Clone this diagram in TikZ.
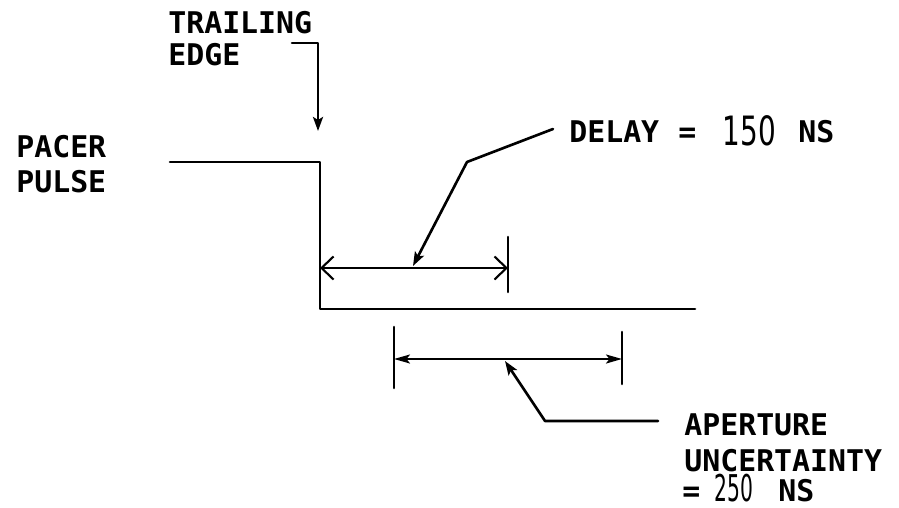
\documentclass[tikz,border=0pt]{standalone}
\usepackage{fontspec}
\newfontfamily\plotfont{DejaVu Sans Mono}
\newfontfamily\digfont{DejaVu Sans}
\usetikzlibrary{arrows.meta}

\begin{document}
\begin{tikzpicture}[x=0.02cm, y=-0.02cm, line cap=round, line join=round, line width=1.5pt,
  lbl/.style={font=\plotfont\bfseries\fontsize{17}{20}\selectfont, inner sep=0pt, anchor=base west},
  bigdig/.style={font=\digfont\fontsize{23}{26}\selectfont, inner sep=0pt, anchor=base west},
  lead/.style={-{Stealth[length=2.8mm, width=2mm, inset=0.6mm]}},
  barb/.style={{Straight Barb[length=2.4mm, width=4.6mm]}-{Straight Barb[length=2.4mm, width=4.6mm]}, line width=1.2pt},
  fillarr/.style={{Stealth[length=3.2mm, width=1.8mm, inset=0.7mm]}-{Stealth[length=3.2mm, width=1.8mm, inset=0.7mm]}, line width=1.2pt}]
  \useasboundingbox (0,0) rectangle (899,507);

  % labels
  \node[lbl] (trail1) at (167,33) {TRAILING};
  \node[lbl] (trail2) at (167,65) {EDGE};
  \node[lbl] (pacer1) at (15,157) {PACER};
  \node[lbl] (pacer2) at (15,192) {PULSE};
  \node[lbl] (dly) at (568,142) {DELAY};
  \node[lbl] (dlyeq) at (677,142) {=};
  \node[bigdig, xscale=0.69] (dlyval) at (722,145) {150};
  \node[lbl] (dlyns) at (797,142) {NS};
  \node[lbl] (ap1) at (683,435) {APERTURE};
  \node[lbl] (ap2) at (683,471) {UNCERTAINTY};
  \node[lbl] (ap3) at (681,501) {=};
  \node[bigdig, font=\digfont\fontsize{21}{24}\selectfont, xscale=0.55] (apval) at (714,501) {250};
  \node[lbl] (apns) at (777,501) {NS};

  % pacer pulse
  \coordinate (hiL) at (170,162);
  \coordinate (hiR) at (320,162);
  \coordinate (loL) at (320,309);
  \coordinate (loR) at (695,309);
  \draw (hiL) -- (hiR) -- (loL) -- (loR);

  % trailing edge pointer
  \coordinate (teA) at (292,43);
  \coordinate (teB) at (318,43);
  \coordinate (teTip) at (318,131);
  \draw[lead] (teA) -- (teB) -- (teTip);

  % delay
  \coordinate (dL) at (320,268);
  \coordinate (dR) at (508,268);
  \coordinate (dRtop) at (508,237);
  \coordinate (dRbot) at (508,292);
  \draw (dRtop) -- (dRbot);
  \draw[barb] (dL) -- (dR);
  \coordinate (dlyLead) at (553,129);
  \coordinate (dlyKink) at (467,162);
  \coordinate (dlyTip) at (413,266);
  \draw[lead] (dlyLead) -- (dlyKink) -- (dlyTip);

  % aperture uncertainty
  \coordinate (aL) at (394,359);
  \coordinate (aR) at (622,359);
  \coordinate (aLtop) at (394,327);
  \coordinate (aLbot) at (394,388);
  \coordinate (aRtop) at (622,332);
  \coordinate (aRbot) at (622,384);
  \draw (aLtop) -- (aLbot);
  \draw (aRtop) -- (aRbot);
  \draw[fillarr] (aL) -- (aR);
  \coordinate (apLead) at (658,421);
  \coordinate (apKink) at (545,421);
  \coordinate (apTip) at (505,361);
  \draw[lead] (apLead) -- (apKink) -- (apTip);
\end{tikzpicture}
\end{document}
